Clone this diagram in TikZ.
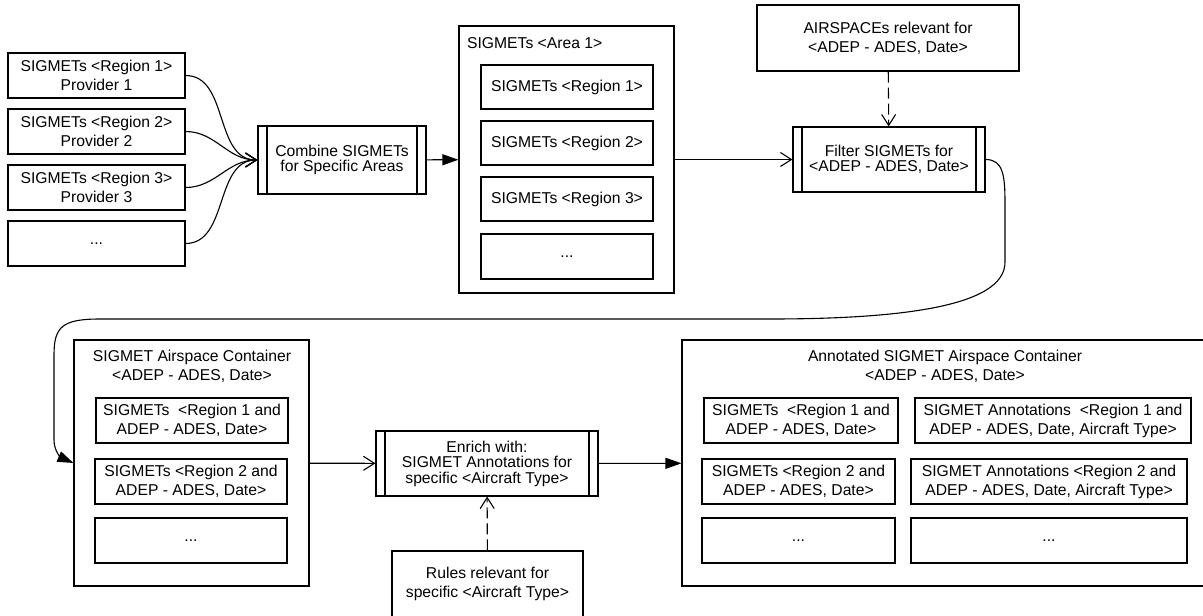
\documentclass[tikz,border=0pt]{standalone}
\usepackage{fontspec}
\setmainfont{Liberation Sans}
\usetikzlibrary{arrows.meta}

\begin{document}
\begin{tikzpicture}[x=1pt,y=-1pt,line width=1.1pt,
    >={Straight Barb[length=11pt,width=14pt]},
    data node/.style={draw,inner sep=0pt,align=center,font=\fontsize{15.7}{19}\selectfont},
    proc node/.style={data node,font=\fontsize{15.7}{15.5}\selectfont,
        path picture={\draw ([xshift=9pt]path picture bounding box.north west) -- ([xshift=9pt]path picture bounding box.south west)
            ([xshift=-9pt]path picture bounding box.north east) -- ([xshift=-9pt]path picture bounding box.south east);}},
    group node/.style={draw,inner sep=0pt},
    title node/.style={inner sep=0pt,align=center,font=\fontsize{15.7}{19}\selectfont},
    box size/.style 2 args={minimum width=#1pt,minimum height=#2pt},
    solid tip/.style={-{Triangle[length=16pt,width=11pt]}},
    dash link/.style={dash pattern=on 11pt off 5pt}]
    \useasboundingbox (0,0) rectangle (1203,616);

    \node[data node,box size={177}{45}] at (96.5,75.5) (p1) {SIGMETs <Region 1>\\Provider 1};
    \node[data node,box size={177}{45}] at (96.5,131.5) (p2) {SIGMETs <Region 2>\\Provider 2};
    \node[data node,box size={177}{45}] at (96.5,187.5) (p3) {SIGMETs <Region 3>\\Provider 3};
    \node[data node,box size={177}{45}] at (96.5,243.5) (p4) {...};
    \node[proc node,box size={168}{68}] at (342,160) (comb) {Combine SIGMETs\\for Specific Areas};

    \node[group node,box size={215}{267}] at (566.5,159.5) (area) {};
    \node[title node,anchor=west] at (466.5,43) (areatitle) {SIGMETs <Area 1>};
    \node[data node,box size={172}{44}] at (567,87) (r1) {SIGMETs <Region 1>};
    \node[data node,box size={172}{44}] at (567,143) (r2) {SIGMETs <Region 2>};
    \node[data node,box size={172}{44}] at (567,199) (r3) {SIGMETs <Region 3>};
    \node[data node,box size={172}{45}] at (567,256.5) (r4) {...};

    \node[data node,box size={262}{66}] at (888,38) (air) {AIRSPACEs relevant for\\<ADEP - ADES, Date>};
    \node[proc node,box size={192}{65}] at (889,159.5) (filt) {Filter SIGMETs for\\<ADEP - ADES, Date>};

    \node[group node,box size={235}{246}] at (191.5,463) (cont) {};
    \node[title node] at (192,366.5) (conttitle) {SIGMET Airspace Container\\<ADEP - ADES, Date>};
    \node[data node,box size={192}{45}] at (192,420.5) (c1) {SIGMETs\ \ <Region 1 and\\ADEP - ADES, Date>};
    \node[data node,box size={192}{45}] at (191,481.5) (c2) {SIGMETs <Region 2 and\\ADEP - ADES, Date>};
    \node[data node,box size={192}{45}] at (191,540.5) (c3) {...};

    \node[proc node,box size={222}{65}] at (487,463.5) (enr) {Enrich with:\\SIGMET Annotations for\\specific <Aircraft Type>};
    \node[data node,box size={191}{66}] at (487.5,584) (rules) {Rules relevant for\\specific <Aircraft Type>};

    \node[group node,box size={524}{246}] at (944,463) (ann) {};
    \node[title node] at (945,366.5) (anntitle) {Annotated SIGMET Airspace Container\\<ADEP - ADES, Date>};
    \node[data node,box size={194}{45}] at (801,420.5) (a1) {SIGMETs\ \ <Region 1 and\\ADEP - ADES, Date>};
    \node[data node,box size={193}{45}] at (798.5,481.5) (a2) {SIGMETs <Region 2 and\\ADEP - ADES, Date>};
    \node[data node,box size={193}{45}] at (798.5,540.5) (a3) {...};
    \node[data node,box size={276}{45}] at (1053,420.5) (b1) {SIGMET Annotations\ \ <Region 1 and\\ADEP - ADES, Date, Aircraft Type>};
    \node[data node,box size={276}{45}] at (1049,481.5) (b2) {SIGMET Annotations <Region 2 and\\ADEP - ADES, Date, Aircraft Type>};
    \node[data node,box size={276}{45}] at (1049,540.5) (b3) {...};

    \path[->] (p1) edge[out=0,in=180] (comb.west)
        (p2) edge[out=0,in=180] (comb.west)
        (p3) edge[out=0,in=180] (comb.west)
        (p4) edge[out=0,in=180] (comb.west);
    \path[solid tip] (comb) edge (area);
    \path[->] (area) edge (filt);
    \path[->,dash link] (air) edge (filt);
    \draw[solid tip] (filt.east) .. controls (1003,159.5) and (1005,175) .. (1005,203) -- (1005,262)
        .. controls (1005,300) and (930,319) .. (770,319) -- (100,319)
        .. controls (62,319) and (54,327) .. (54,355) -- (54,440)
        .. controls (54,452) and (62,458) .. (cont.west);
    \path[->] (cont) edge (enr);
    \path[->,dash link] (rules) edge (enr);
    \path[solid tip] (enr) edge (ann);
\end{tikzpicture}
\end{document}
